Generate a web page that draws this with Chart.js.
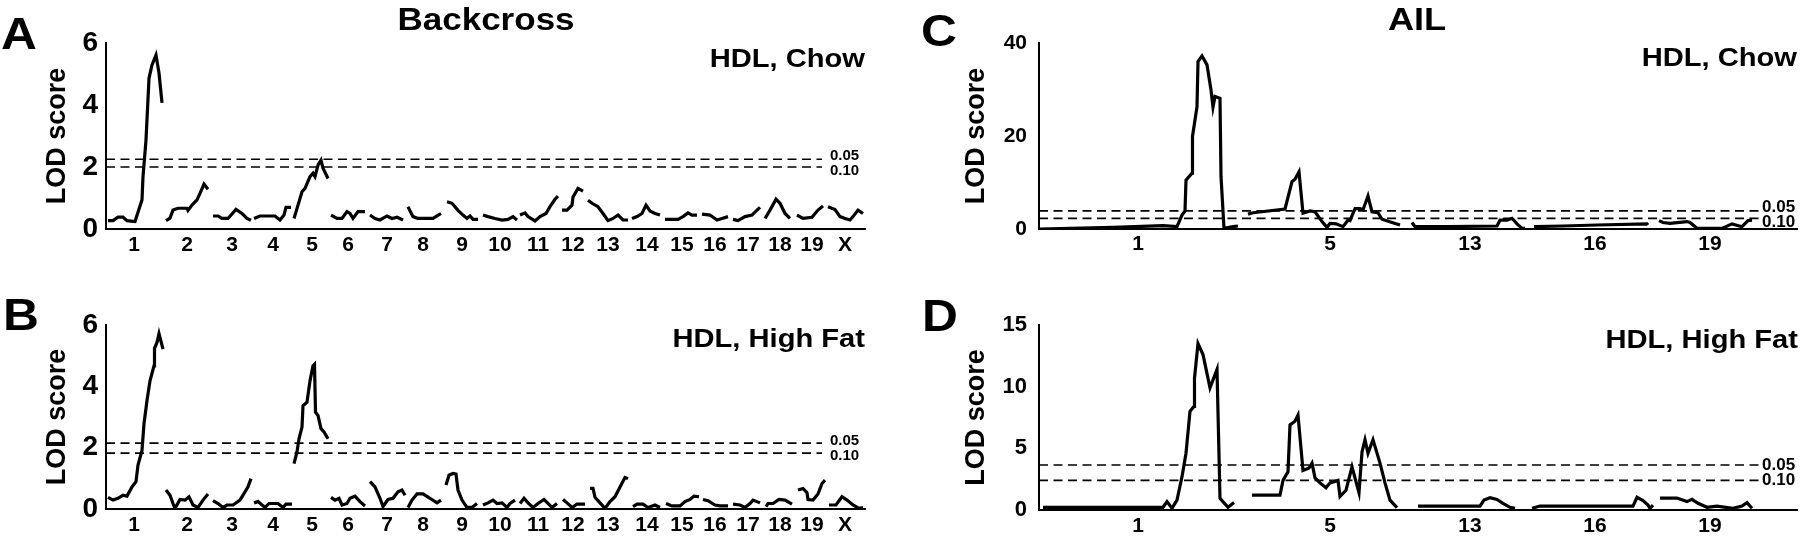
<!DOCTYPE html>
<html>
<head>
<meta charset="utf-8">
<script src="https://cdn.jsdelivr.net/npm/chart.js@4.4.1/dist/chart.umd.min.js"></script>
<style>
  html, body { margin: 0; padding: 0; background: #fff; }
  #fig { position: relative; width: 1800px; height: 540px; overflow: hidden;
         font-family: "Liberation Sans", Arial, sans-serif; font-weight: bold; color: #000; }
  canvas { position: absolute; }
  .lbl { position: absolute; line-height: 1; white-space: nowrap; }
  .c { transform-origin: 50% 50%;  transform: translate(-50%, -50%) scaleX(1.13); }
  .r { transform-origin: 100% 50%; transform: translate(-100%, -50%) scaleX(1.12); }
</style>
</head>
<body>
<div id="fig">
  <canvas id="cA" width="880" height="270" style="left:0;top:0"></canvas>
  <canvas id="cB" width="880" height="270" style="left:0;top:270px"></canvas>
  <canvas id="cC" width="920" height="270" style="left:880px;top:0"></canvas>
  <canvas id="cD" width="920" height="270" style="left:880px;top:270px"></canvas>

  <div class="lbl c" style="left:486px;top:19px;font-size:31px">Backcross</div>
  <div class="lbl c" style="left:1417px;top:19px;font-size:32px">AIL</div>

  <div class="lbl c" style="left:19px;top:34px;font-size:44px">A</div>
  <div class="lbl c" style="left:21px;top:315px;font-size:44px">B</div>
  <div class="lbl c" style="left:939px;top:31px;font-size:44px">C</div>
  <div class="lbl c" style="left:940px;top:316px;font-size:44px">D</div>

  <div class="lbl r" style="left:865px;top:58px;font-size:26px">HDL, Chow</div>
  <div class="lbl r" style="left:865px;top:338px;font-size:26px">HDL, High Fat</div>
  <div class="lbl r" style="left:1797px;top:57px;font-size:26px">HDL, Chow</div>
  <div class="lbl r" style="left:1798px;top:339px;font-size:26px">HDL, High Fat</div>
</div>

<script>
// ── Axis labels ──
const bcChrLabels  = ['1','2','3','4','5','6','7','8','9','10','11','12','13','14','15','16','17','18','19','X'];
const bcChrTicks   = [56,162,252,334,412,484,562,634,712,788,864,934,1004,1082,1152,1218,1284,1348,1412,1478]; // cM
const ailChrLabels = ['1','5','13','16','19'];
const ailChrTicks  = [99,291,431,556,671]; // Mb

// ── Significance thresholds (LOD) ──
const thrLabels   = ['0.05','0.10'];
const bcChowThr   = [2.25, 2.0];
const bcFatThr    = [2.15, 1.82];
const ailChowThr  = [3.9, 2.3];
const ailFatThr   = [3.65, 2.4];

// ── LOD profiles: one array per chromosome, [genome position, LOD] ──
const bcChow = [
  [[4,.27],[14,.27],[24,.38],[34,.38],[42,.27],[58,.24],[72,.94],[74,1.69],[80,2.87],[86,4.86],[92,5.29],[100,5.61],[106,5.03],[112,4.07]],
  [[120,.27],[128,.35],[134,.61],[144,.67],[162,.67],[164,.6],[172,.77],[182,.94],[188,1.15],[196,1.45],[204,1.28]],
  [[214,.42],[224,.42],[232,.34],[244,.34],[260,.63],[272,.5],[282,.34],[290,.28]],
  [[296,.34],[308,.42],[338,.42],[348,.29],[356,.45],[360,.7],[370,.7]],
  [[376,.34],[384,.77],[392,1.2],[398,1.31],[408,1.69],[414,1.8],[418,1.69],[424,2.06],[430,2.22],[434,1.96],[444,1.63]],
  [[450,.45],[462,.34],[472,.34],[482,.56],[488,.5],[494,.34],[504,.56],[518,.56]],
  [[528,.45],[538,.34],[548,.29],[562,.42],[572,.34],[582,.38],[594,.29]],
  [[604,.72],[614,.4],[624,.34],[648,.34],[654,.34],[662,.42],[670,.5]],
  [[682,.88],[692,.83],[704,.6],[714,.45],[722,.34],[728,.42],[734,.31],[744,.31]],
  [[754,.45],[764,.4],[778,.34],[792,.29],[804,.31],[814,.4],[822,.29]],
  [[828,.45],[838,.52],[844,.4],[858,.26],[868,.4],[880,.5],[888,.72],[898,.96],[904,1.06]],
  [[912,.61],[922,.61],[932,.77],[934,1.03],[944,1.31],[954,1.22]],
  [[964,.93],[972,.83],[984,.72],[994,.5],[1004,.27],[1014,.34],[1024,.45],[1034,.29],[1044,.29]],
  [[1052,.34],[1062,.4],[1072,.5],[1080,.77],[1088,.58],[1098,.5],[1108,.45]],
  [[1118,.31],[1144,.31],[1154,.4],[1164,.52],[1172,.45],[1182,.45]],
  [[1192,.48],[1208,.45],[1222,.29],[1232,.34],[1244,.4]],
  [[1254,.31],[1264,.27],[1278,.4],[1292,.45],[1302,.61],[1308,.7]],
  [[1318,.34],[1328,.61],[1340,.96],[1348,.83],[1358,.5],[1368,.34]],
  [[1382,.45],[1394,.34],[1412,.38],[1424,.61],[1434,.74]],
  [[1444,.72],[1458,.63],[1468,.4],[1478,.34],[1488,.29],[1494,.4],[1504,.61],[1514,.5]]
];

const bcFat = [
  [[4,.38],[14,.29],[24,.35],[34,.45],[42,.42],[52,.72],[60,.89],[64,1.43],[72,1.91],[76,2.78],[82,3.54],[88,4.18],[96,4.67],[97,5.24],[102,5.43],[106,5.72],[114,5.21]],
  [[120,.62],[128,.45],[134,.18],[138,.02],[148,.31],[158,.29],[166,.4],[174,.13],[184,.05],[194,.29],[204,.49]],
  [[214,.27],[224,.18],[234,.05],[242,.13],[254,.13],[268,.29],[278,.56],[284,.72],[290,.99]],
  [[296,.2],[304,.24],[318,.05],[326,.18],[344,.18],[354,.05],[360,.16],[372,.16]],
  [[376,1.48],[382,1.86],[386,2.29],[392,2.67],[394,3.37],[402,3.48],[408,4.18],[414,4.67],[417,4.72],[419,3.16],[424,3.05],[430,2.62],[436,2.51],[444,2.29]],
  [[450,.38],[458,.29],[466,.35],[472,.13],[482,.18],[488,.35],[498,.42],[508,.24],[518,.1]],
  [[528,.89],[538,.72],[548,.35],[554,.08],[564,.31],[574,.35],[584,.56],[592,.62],[598,.45]],
  [[604,.05],[612,.29],[622,.49],[634,.49],[648,.35],[662,.2],[670,.29]],
  [[680,.78],[686,1.1],[694,1.16],[700,1.14],[704,.62],[712,.29],[722,.05],[732,.05],[742,.18]],
  [[754,.13],[764,.2],[774,.29],[782,.18],[792,.2],[802,.05],[808,.18],[818,.29]],
  [[828,.18],[836,.35],[844,.2],[854,.05],[864,.18],[876,.31],[884,.18],[892,.05],[902,.18]],
  [[914,.31],[922,.2],[932,.05],[942,.16],[958,.16]],
  [[968,.67],[974,.67],[978,.38],[988,.2],[998,.02],[1008,.24],[1018,.4],[1028,.72],[1038,1.03],[1044,.99]],
  [[1054,.08],[1062,.16],[1074,.16],[1084,.05],[1098,.13],[1108,.05]],
  [[1120,.18],[1132,.1],[1148,.1],[1158,.24],[1168,.31],[1176,.42],[1186,.4]],
  [[1194,.31],[1204,.27],[1218,.13],[1228,.1],[1244,.1]],
  [[1254,.16],[1268,.13],[1278,.05],[1288,.18],[1294,.29],[1308,.2]],
  [[1320,.08],[1324,.18],[1334,.18],[1346,.31],[1358,.29],[1372,.16]],
  [[1384,.62],[1394,.67],[1402,.53],[1404,.31],[1414,.29],[1424,.49],[1432,.83],[1438,.94]],
  [[1446,.13],[1460,.13],[1472,.4],[1482,.29],[1494,.13],[1506,.02],[1514,.05]]
];

const ailChow = [
  [[0,0],[74,.36],[124,.72],[138,.5],[143,3.0],[146,3.9],[147,10.5],[153,12.0],[153.5,19.9],[158,26.3],[159,36.0],[163,37.2],[168,35.3],[172,29.9],[174,26.2],[176,28.5],[181,28.1],[182,11.3],[185,.14],[189,.29],[194,.5],[199,.65]],
  [[209,3.2],[214,3.5],[246,4.3],[253,10.2],[256,10.7],[260,12.3],[264,3.4],[271,3.9],[276,3.7],[283,1.6],[288,.36],[291,1.2],[297,1.1],[304,.5],[309,1.9],[311,1.8],[316,4.4],[321,4.4],[324,4.1],[329,7.1],[333,3.7],[339,3.5],[343,2.1],[353,1.4],[361,.86]],
  [[373,1.4],[376,.5],[408,.5],[458,.65],[461,1.9],[468,1.9],[473,2.3],[478,1.1],[483,.14],[486,.14]],
  [[495,.5],[524,.65],[558,.86],[608,1.1],[609,.86]],
  [[620,1.8],[624,1.4],[631,1.2],[648,1.6],[651,1.4],[658,.14],[683,.14],[693,1.1],[703,.5],[709,1.8],[713,1.9]]
];

const ailFat = [
  [[4,.22],[124,.22],[128,.68],[133,.14],[138,.8],[143,2.7],[147,4.6],[151,8.0],[155,8.4],[155.5,10.7],[159,13.5],[164,12.6],[171,9.9],[178,11.4],[181,.95],[189,.22],[195,.6]],
  [[213,1.2],[241,1.2],[244,2.4],[249,3.1],[251,6.9],[256,7.2],[259,7.7],[264,3.2],[270,3.4],[273,3.8],[276,2.6],[281,2.2],[287,1.8],[291,2.2],[299,2.4],[301,1.1],[307,1.6],[313,3.5],[320,1.4],[323,4.7],[326,5.7],[329,4.6],[334,5.7],[341,3.8],[346,2.2],[351,.8],[358,.2]],
  [[379,.32],[441,.32],[445,.8],[451,1.0],[458,.86],[464,.54],[471,.22],[476,.14]],
  [[493,.14],[501,.32],[594,.32],[598,1.03],[604,.76],[609,.4],[611,.14],[614,.4]],
  [[621,.97],[638,.97],[648,.68],[653,.86],[659,.54],[668,.22],[678,.32],[694,.14],[703,.32],[708,.6],[713,.14]]
];

const FONT = '"Liberation Sans", Arial, sans-serif';

// ── Chromosome arrays -> one series, null between chromosomes ──
function toSeries(chroms) {
  const pts = [];
  chroms.forEach((c, i) => {
    if (i) pts.push({ x: (chroms[i - 1][chroms[i - 1].length - 1][0] + c[0][0]) / 2, y: null });
    c.forEach(([x, y]) => pts.push({ x, y }));
  });
  return pts;
}

// ── Threshold labels at the right end of the dashed lines ──
const thrLabelPlugin = {
  id: 'thrLabels',
  afterDatasetsDraw(chart, args, o) {
    const { ctx, chartArea, scales: { y } } = chart;
    let ys = o.values.map(v => y.getPixelForValue(v));
    if (ys[1] - ys[0] < o.minGap) {
      const mid = (ys[0] + ys[1]) / 2;
      ys = [mid - o.minGap / 2, mid + o.minGap / 2];
    }
    ctx.save();
    ctx.font = `bold ${o.size}px ${FONT}`;
    ctx.fillStyle = '#000';
    ctx.textAlign = 'left';
    ctx.textBaseline = 'middle';
    o.labels.forEach((t, i) => ctx.fillText(t, chartArea.right - o.inset, ys[i]));
    ctx.restore();
  }
};

function makePanel(id, p) {
  return new Chart(document.getElementById(id), {
    type: 'line',
    data: {
      datasets: [
        { data: toSeries(p.lod), borderColor: '#000', borderWidth: 3.2, pointRadius: 0, tension: 0, spanGaps: false },
        ...p.thr.map(t => ({
          data: [{ x: 0, y: t }, { x: p.dashEnd, y: t }],
          borderColor: '#000', borderWidth: 1.7, borderDash: [9, 5.5], pointRadius: 0,
        })),
      ],
    },
    options: {
      responsive: false, animation: false, events: [],
      layout: { padding: p.pad },
      plugins: {
        legend: { display: false }, tooltip: { enabled: false },
        thrLabels: { values: p.thr, labels: thrLabels, size: p.thrSize, inset: 35, minGap: 15.5 },
      },
      scales: {
        x: {
          type: 'linear', min: 0, max: p.xMax,
          grid: { display: false, drawTicks: false },
          border: { display: true, color: '#000', width: 2 },
          afterBuildTicks: s => { s.ticks = p.ticks.map(v => ({ value: v })); },
          afterFit: s => { s.height = p.xH; },
          ticks: {
            autoSkip: false, maxRotation: 0, padding: p.xPad, color: '#000',
            font: { family: FONT, size: 21, weight: 'bold' },
            callback: (v, i) => p.tickLabels[i],
          },
        },
        y: {
          min: 0, max: p.yMax,
          grid: { display: false, drawTicks: false },
          border: { display: true, color: '#000', width: 2 },
          afterFit: s => { s.width = p.yW; },
          ticks: { stepSize: p.yStep, padding: p.yPad, color: '#000', font: { family: FONT, size: p.yFont, weight: 'bold' } },
          title: {
            display: true, text: 'LOD score', color: '#000',
            font: { family: FONT, size: 27, weight: 'bold' },
            padding: { top: p.titlePad, bottom: 0 },
          },
        },
      },
    },
    plugins: [thrLabelPlugin],
  });
}

const bcBase  = { xMax: 1518, dashEnd: 1432, ticks: bcChrTicks, tickLabels: bcChrLabels, yMax: 6, yStep: 2,
                  yW: 106, yFont: 28, yPad: 8, titlePad: 41, xPad: 4, thrSize: 15 };
const ailBase = { xMax: 758, dashEnd: 721, ticks: ailChrTicks, tickLabels: ailChrLabels,
                  yW: 159, yPad: 12, titlePad: 80, xPad: 3, thrSize: 17 };

makePanel('cA', { ...bcBase, lod: bcChow, thr: bcChowThr, pad: { top: 43, right: 15, left: 0, bottom: 0 }, xH: 41 });
makePanel('cB', { ...bcBase, lod: bcFat,  thr: bcFatThr,  pad: { top: 55, right: 15, left: 0, bottom: 0 }, xH: 31 });
makePanel('cC', { ...ailBase, lod: ailChow, thr: ailChowThr, yMax: 40, yStep: 20, yFont: 21,
                  pad: { top: 43, right: 3, left: 0, bottom: 0 }, xH: 41 });
makePanel('cD', { ...ailBase, lod: ailFat, thr: ailFatThr, yMax: 15, yStep: 5, yFont: 22, xPad: 4,
                  pad: { top: 55, right: 3, left: 0, bottom: 0 }, xH: 30 });
</script>
</body>
</html>
